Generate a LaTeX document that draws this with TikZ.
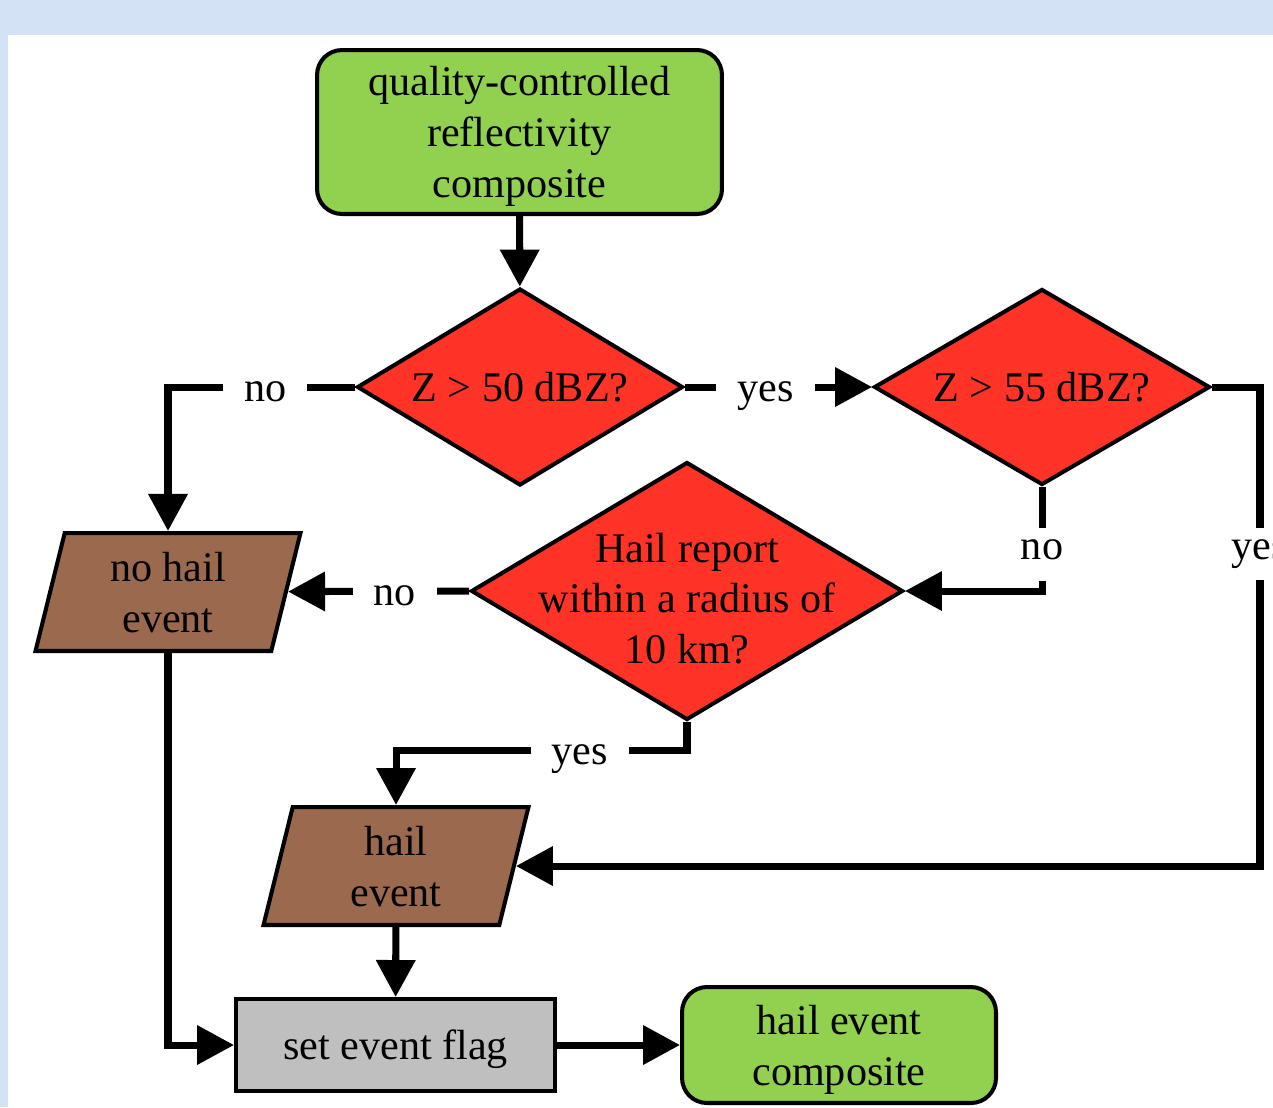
\documentclass[tikz,border=0pt]{standalone}
\usepackage{fontspec}
\setmainfont{Liberation Serif}
\usetikzlibrary{shapes.geometric,arrows.meta}
\definecolor{bgblue}{HTML}{D4E2F6}
\definecolor{termgreen}{HTML}{92D050}
\definecolor{decred}{HTML}{FF3326}
\definecolor{iobrown}{HTML}{9B6A4E}
\definecolor{flaggray}{HTML}{BFBFBF}
\begin{document}
\begin{tikzpicture}[x=0.02cm,y=-0.02cm,
    font=\fontsize{24}{29}\selectfont,
    box/.style={draw,line width=2.3pt,align=center,inner sep=0pt,text depth=0pt},
    term/.style={box,rounded corners=0.5cm,fill=termgreen},
    dec/.style={box,diamond,aspect=1.65,fill=decred},
    io/.style={box,trapezium,trapezium left angle=70,trapezium right angle=110,
        trapezium stretches body,fill=iobrown,minimum width=5.3cm,minimum height=2.36cm},
    flow/.style={line width=4pt,-{Triangle[length=0.74cm,width=0.76cm]}},
    lbl/.style={fill=white,inner xsep=0.42cm,inner ysep=0.35cm,
        text height=0.8em,text depth=0.2em,yshift=-0.18cm}]
    \fill[bgblue] (0,0) rectangle (1273,1107);
    \fill[white] (8,35) rectangle (1273,1107);
    \useasboundingbox (0,0) rectangle (1273,1107);

    \node[term,minimum width=8.1cm,minimum height=3.28cm] (start) at (519.5,132) {quality-controlled\\reflectivity\\composite};
    \node[dec,minimum width=6.52cm,minimum height=3.94cm] (d1) at (520,387) {Z > 50 dBZ?};
    \node[dec,minimum width=6.72cm,minimum height=3.92cm] (d2) at (1042,387) {Z > 55 dBZ?};
    \node[dec,minimum width=8.64cm,minimum height=5.16cm,inner sep=-12pt] (d3) at (687,591) {\rule{0pt}{25pt}Hail report\\within a radius of\\10 km?};
    \node[io] (nohail) at (168,592) {no hail\\event};
    \node[io] (hailev) at (396,866) {hail\\event};
    \node[box,fill=flaggray,minimum width=6.38cm,minimum height=1.84cm] (flag) at (395.5,1045) {set event flag};
    \node[term,minimum width=6.28cm,minimum height=2.32cm] (endc) at (839,1045) {hail event\\composite};

    \draw[flow] (start) -- (d1);
    \draw[flow] (d1.west) -| node[lbl,pos=0.24]{no} (nohail);
    \draw[flow] (d1.east) -- node[lbl,pos=0.43]{yes} (d2.west);
    \draw[flow] (d2.south) |- node[lbl,pos=0.28]{no} (d3.east);
    \draw[flow] (d2.east) -- ++(48,0) |- node[lbl,pos=0.165]{yes} (hailev);
    \draw[flow] (d3.west) -- node[lbl,pos=0.41]{no} (nohail);
    \draw[flow] (d3.south) -- ++(0,28) -| node[lbl,pos=0.184]{yes} (hailev);
    \draw[flow] (hailev) -- (flag);
    \draw[flow] (nohail) |- (flag);
    \draw[flow] (flag) -- (endc);
\end{tikzpicture}
\end{document}
